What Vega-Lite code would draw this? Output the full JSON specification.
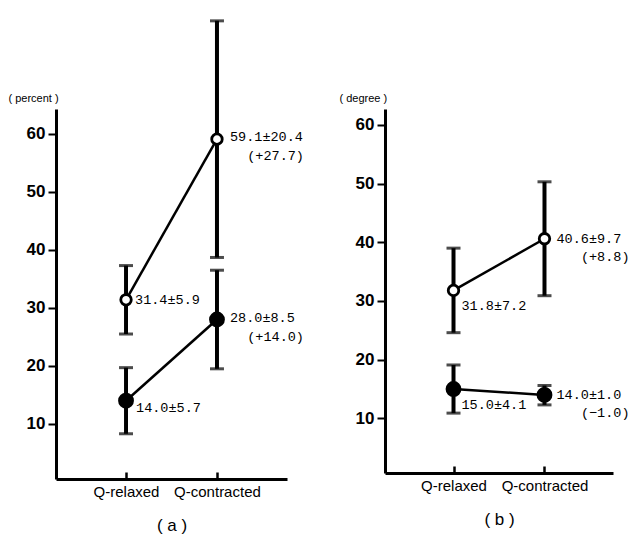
{
  "$schema": "https://vega.github.io/schema/vega-lite/v6.json",
  "background": "white",
  "padding": {"left": 8, "top": 18, "right": 2, "bottom": 2},
  "bounds": "flush",
  "spacing": 98,
  "datasets": {
    "pts": [
      {"panel": "a", "cond": "Q-relaxed", "series": "open", "mean": 31.4, "lo": 25.5, "hi": 37.3, "label": "31.4±5.9", "change": ""},
      {"panel": "a", "cond": "Q-contracted", "series": "open", "mean": 59.1, "lo": 38.7, "hi": 79.5, "label": "59.1±20.4", "change": "(+27.7)"},
      {"panel": "a", "cond": "Q-relaxed", "series": "filled", "mean": 14.0, "lo": 8.3, "hi": 19.7, "label": "14.0±5.7", "change": ""},
      {"panel": "a", "cond": "Q-contracted", "series": "filled", "mean": 28.0, "lo": 19.5, "hi": 36.5, "label": "28.0±8.5", "change": "(+14.0)"},
      {"panel": "b", "cond": "Q-relaxed", "series": "open", "mean": 31.8, "lo": 24.6, "hi": 39.0, "label": "31.8±7.2", "change": ""},
      {"panel": "b", "cond": "Q-contracted", "series": "open", "mean": 40.6, "lo": 30.9, "hi": 50.3, "label": "40.6±9.7", "change": "(+8.8)"},
      {"panel": "b", "cond": "Q-relaxed", "series": "filled", "mean": 15.0, "lo": 10.9, "hi": 19.1, "label": "15.0±4.1", "change": ""},
      {"panel": "b", "cond": "Q-contracted", "series": "filled", "mean": 14.0, "lo": 12.3, "hi": 15.6, "label": "14.0±1.0", "change": "(−1.0)"}
    ]
  },
  "config": {
    "view": {"stroke": null},
    "font": "Liberation Sans",
    "axis": {"domainColor": "black", "tickColor": "black", "labelColor": "black", "titleColor": "black", "grid": false},
    "axisY": {"tickSize": 8, "tickWidth": 2, "domainWidth": 3, "labelFont": "Liberation Sans", "labelFontWeight": "bold", "labelFontSize": 17, "labelPadding": 3,
      "titleAngle": 0, "titleY": -6, "titleAlign": "left", "titleBaseline": "bottom", "titleFontSize": 11, "titleFontWeight": "normal"},
    "axisX": {"labelAngle": 0, "ticks": true, "tickSize": -7, "tickWidth": 2.5, "domainWidth": 3, "labelFontSize": 15, "labelPadding": 12, "titleFontSize": 17, "titleFontWeight": "normal", "titlePadding": 18}
  },
  "hconcat": [
    {
      "width": 231,
      "height": 370,
      "data": {"name": "pts"},
      "transform": [{"filter": "datum.panel == 'a'"}],
      "encoding": {
        "x": {"field": "cond", "type": "ordinal", "sort": ["Q-relaxed", "Q-contracted"],
          "scale": {"type": "point", "padding": 0.77, "domain": ["Q-relaxed", "Q-contracted"]},
          "axis": {"title": "( a )"}},
        "y": {"field": "mean", "type": "quantitative", "scale": {"domain": [0.5, 64.3]},
          "axis": {"title": "( percent )", "titleX": -48, "values": [10, 20, 30, 40, 50, 60]}}
      },
      "layer": [
        {"mark": {"type": "rule", "strokeWidth": 4, "color": "black"},
          "encoding": {"y": {"field": "lo", "type": "quantitative", "scale": {"domain": [0.5, 64.3]}, "axis": {"title": "( percent )", "titleX": -48, "values": [10, 20, 30, 40, 50, 60]}}, "y2": {"field": "hi"}}},
        {"mark": {"type": "tick", "orient": "horizontal", "size": 14, "thickness": 3, "color": "black"},
          "encoding": {"y": {"field": "lo", "type": "quantitative", "scale": {"domain": [0.5, 64.3]}, "axis": {"title": "( percent )", "titleX": -48, "values": [10, 20, 30, 40, 50, 60]}}}},
        {"mark": {"type": "tick", "orient": "horizontal", "size": 14, "thickness": 3, "color": "black"},
          "encoding": {"y": {"field": "hi", "type": "quantitative", "scale": {"domain": [0.5, 64.3]}, "axis": {"title": "( percent )", "titleX": -48, "values": [10, 20, 30, 40, 50, 60]}}}},
        {"mark": {"type": "line", "color": "black", "strokeWidth": 2.5},
          "encoding": {"detail": {"field": "series"}}},
        {"mark": {"type": "point", "shape": "circle", "filled": true, "stroke": "black", "strokeWidth": 2.8, "opacity": 1},
          "encoding": {
            "fill": {"field": "series", "type": "nominal", "scale": {"domain": ["open", "filled"], "range": ["white", "black"]}, "legend": null},
            "size": {"field": "series", "type": "nominal", "scale": {"domain": ["open", "filled"], "range": [110, 170]}, "legend": null}}},
        {"transform": [{"filter": "datum.cond == 'Q-relaxed' && datum.series == 'open'"}],
          "mark": {"type": "text", "font": "Liberation Mono", "fontSize": 13.5, "align": "left", "baseline": "middle", "dx": 9, "dy": 0, "color": "black"},
          "encoding": {"text": {"field": "label"}}},
        {"transform": [{"filter": "datum.cond == 'Q-relaxed' && datum.series == 'filled'"}],
          "mark": {"type": "text", "font": "Liberation Mono", "fontSize": 13.5, "align": "left", "baseline": "middle", "dx": 10, "dy": 7, "color": "black"},
          "encoding": {"text": {"field": "label"}}},
        {"transform": [{"filter": "datum.cond == 'Q-contracted'"}],
          "mark": {"type": "text", "font": "Liberation Mono", "fontSize": 13.5, "align": "left", "baseline": "middle", "dx": 13, "dy": -2, "color": "black"},
          "encoding": {"text": {"field": "label"}}},
        {"transform": [{"filter": "datum.change != ''"}],
          "mark": {"type": "text", "font": "Liberation Mono", "fontSize": 13.5, "align": "right", "baseline": "middle", "dx": 87, "dy": 17, "color": "black"},
          "encoding": {"text": {"field": "change"}}}
      ]
    },
    {
      "width": 228,
      "height": 364,
      "data": {"name": "pts"},
      "transform": [{"filter": "datum.panel == 'b'"}],
      "encoding": {
        "x": {"field": "cond", "type": "ordinal", "sort": ["Q-relaxed", "Q-contracted"],
          "scale": {"type": "point", "padding": 0.753, "domain": ["Q-relaxed", "Q-contracted"]},
          "axis": {"title": "( b )"}},
        "y": {"field": "mean", "type": "quantitative", "scale": {"domain": [0.7, 62.7]},
          "axis": {"title": "( degree )", "titleX": -46, "values": [10, 20, 30, 40, 50, 60]}}
      },
      "layer": [
        {"mark": {"type": "rule", "strokeWidth": 4, "color": "black"},
          "encoding": {"y": {"field": "lo", "type": "quantitative", "scale": {"domain": [0.7, 62.7]}, "axis": {"title": "( degree )", "titleX": -46, "values": [10, 20, 30, 40, 50, 60]}}, "y2": {"field": "hi"}}},
        {"mark": {"type": "tick", "orient": "horizontal", "size": 14, "thickness": 3, "color": "black"},
          "encoding": {"y": {"field": "lo", "type": "quantitative", "scale": {"domain": [0.7, 62.7]}, "axis": {"title": "( degree )", "titleX": -46, "values": [10, 20, 30, 40, 50, 60]}}}},
        {"mark": {"type": "tick", "orient": "horizontal", "size": 14, "thickness": 3, "color": "black"},
          "encoding": {"y": {"field": "hi", "type": "quantitative", "scale": {"domain": [0.7, 62.7]}, "axis": {"title": "( degree )", "titleX": -46, "values": [10, 20, 30, 40, 50, 60]}}}},
        {"mark": {"type": "line", "color": "black", "strokeWidth": 2.5},
          "encoding": {"detail": {"field": "series"}}},
        {"mark": {"type": "point", "shape": "circle", "filled": true, "stroke": "black", "strokeWidth": 2.8, "opacity": 1},
          "encoding": {
            "fill": {"field": "series", "type": "nominal", "scale": {"domain": ["open", "filled"], "range": ["white", "black"]}, "legend": null},
            "size": {"field": "series", "type": "nominal", "scale": {"domain": ["open", "filled"], "range": [110, 170]}, "legend": null}}},
        {"transform": [{"filter": "datum.cond == 'Q-relaxed'"}],
          "mark": {"type": "text", "font": "Liberation Mono", "fontSize": 13.5, "align": "left", "baseline": "middle", "dx": 8, "dy": 16, "color": "black"},
          "encoding": {"text": {"field": "label"}}},
        {"transform": [{"filter": "datum.cond == 'Q-contracted'"}],
          "mark": {"type": "text", "font": "Liberation Mono", "fontSize": 13.5, "align": "left", "baseline": "middle", "dx": 12, "dy": 0, "color": "black"},
          "encoding": {"text": {"field": "label"}}},
        {"transform": [{"filter": "datum.change != ''"}],
          "mark": {"type": "text", "font": "Liberation Mono", "fontSize": 13.5, "align": "right", "baseline": "middle", "dx": 85, "dy": 18, "color": "black"},
          "encoding": {"text": {"field": "change"}}}
      ]
    }
  ]
}
